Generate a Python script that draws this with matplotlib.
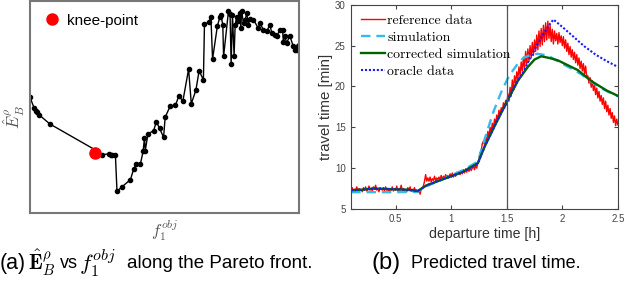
"""Figura: Pareto front (E_B vs f1) y tiempo de viaje predicho."""

import matplotlib
matplotlib.use("Agg")
import matplotlib.pyplot as plt
import numpy as np

plt.rcParams["mathtext.fontset"] = "cm"

# PANEL (a): puntos del frente de Pareto (unidades arbitrarias, 0-100)
PARETO_F1 = [
    0.0, 1.5, 2.1, 2.7, 3.3, 7.4, 24.1, 24.1, 24.9, 26.8, 29.3, 29.9, 30.5, 31.7,
    32.3, 34.0, 37.3, 38.5, 39.5, 41.0, 42.0, 42.5, 42.8, 43.8, 45.9, 46.9, 48.1,
    49.6, 50.2, 52.1, 54.0, 55.2, 56.8, 58.9, 59.9, 61.6, 62.8, 64.4, 64.8, 66.3,
    67.2, 67.8, 69.6, 70.6, 70.9, 71.6, 71.9, 73.7, 74.3, 74.7, 75.2, 75.8, 76.2,
    76.8, 77.4, 78.0, 78.3, 78.6, 79.3, 79.9, 80.5, 81.1, 81.7, 83.0, 84.8, 85.4,
    86.7, 87.9, 89.1, 89.8, 91.0, 91.6, 92.8, 93.8, 94.1, 94.7, 95.3, 96.5, 97.8,
    98.4, 99.0, 99.6, 99.9,
]
PARETO_E = [
    54.5, 49.5, 48.2, 47.4, 46.3, 41.9, 29.8, 28.3, 27.9, 27.5, 27.8, 27.3, 27.3, 27.5,
    10.2, 12.1, 15.7, 20.7, 23.1, 23.1, 29.0, 35.3, 29.4, 37.2, 38.8, 42.9, 40.0,
    35.6, 45.1, 50.5, 50.7, 54.9, 52.9, 67.8, 51.5, 57.8, 67.0, 62.8, 89.2, 89.8,
    92.2, 72.5, 88.2, 92.6, 93.4, 88.7, 73.8, 95.0, 93.9, 70.2, 93.4, 74.1, 88.7,
    92.6, 90.3, 94.2, 87.1, 95.0, 89.5, 91.1, 94.2, 88.7, 91.4, 91.1, 87.1, 89.5,
    86.3, 85.6, 88.7, 84.8, 84.0, 83.2, 86.3, 86.3, 80.8, 83.2, 80.1, 83.5, 78.5,
    76.9, 76.9, 78.5, 79.3,
]
KNEE_F1 = 24.1
KNEE_E = 28.3

# PANEL (b): tiempo de viaje [min] frente a hora de salida [h]
REF_T = np.round(np.arange(0.10, 2.505, 0.01), 2)
REF_TT = [
    7.2, 7.6, 7.1, 7.4, 7.3, 7.7, 7.2, 7.5, 7.3, 7.4,
    7.1, 7.6, 7.3, 7.7, 7.2, 7.4, 7.8, 7.3, 7.5, 7.2,
    7.7, 7.4, 7.9, 7.3, 7.5, 7.1, 7.6, 7.4, 7.3, 7.6,
    7.2, 7.7, 7.3, 7.5, 7.0, 7.4, 7.3, 7.7, 7.2, 7.5,
    7.3, 7.8, 7.2, 7.5, 7.4, 7.9, 7.3, 7.5, 7.1, 7.4,
    7.1, 7.6, 7.3, 7.7, 7.2, 7.4, 7.3, 7.6, 7.0, 7.3,
    7.0, 7.3, 6.8, 7.4, 7.6, 7.8, 8.4, 9.2, 8.4, 8.8,
    8.4, 8.9, 8.3, 8.7, 8.5, 9.0, 8.4, 8.8, 8.6, 8.9,
    8.6, 9.1, 8.6, 9.0, 8.7, 9.2, 8.8, 9.1, 8.8, 9.3,
    8.9, 9.4, 8.9, 9.3, 9.0, 9.5, 9.2, 9.6, 9.2, 9.7,
    9.3, 9.8, 9.4, 9.9, 9.5, 10.0, 9.6, 10.1, 9.7, 10.0,
    10.2, 9.8, 10.4, 10.0, 10.7, 11.0, 11.9, 12.1, 13.0, 13.3,
    12.9, 13.8, 13.3, 14.5, 13.8, 15.0, 14.4, 15.5, 14.9, 16.0,
    15.4, 16.5, 15.9, 17.1, 16.4, 17.4, 16.9, 18.0, 17.3, 18.3,
    17.7, 19.1, 18.2, 19.9, 18.8, 20.8, 19.6, 21.3, 20.4, 21.8,
    20.9, 22.4, 21.3, 23.0, 21.9, 23.6, 22.2, 24.3, 22.7, 24.6,
    23.1, 25.0, 23.5, 25.4, 23.8, 25.7, 24.3, 26.3, 24.5, 26.8,
    24.9, 27.1, 25.1, 27.5, 25.5, 27.8, 25.7, 28.0, 25.9, 27.5,
    25.5, 27.0, 25.2, 26.8, 25.6, 26.5, 25.2, 26.6, 25.4, 26.2,
    25.0, 26.1, 24.7, 25.7, 24.3, 25.3, 23.9, 24.9, 23.6, 24.5,
    23.3, 24.2, 22.9, 23.9, 22.6, 23.5, 22.2, 23.1, 21.9, 22.8,
    21.5, 22.5, 21.1, 21.3, 20.4, 21.1, 19.9, 20.7, 19.5, 20.2,
    19.0, 19.8, 18.6, 19.4, 18.2, 18.9, 17.8, 18.6, 17.3, 18.2,
    16.9, 17.7, 16.5, 17.3, 16.1, 16.8, 15.6, 16.4, 15.2, 16.0,
    15.3,
]
SIM_T = [0.10, 0.30, 0.50, 0.70, 0.78, 0.90, 1.00, 1.10, 1.24, 1.30, 1.38, 1.45, 1.52,
         1.60, 1.65, 1.72, 1.78, 1.87, 1.97, 2.06, 2.17, 2.27, 2.36, 2.45, 2.50]
SIM_TT = [7.05, 7.05, 7.05, 7.1, 7.8, 8.5, 9.1, 9.7, 10.8, 13.5, 16.9, 19.3, 21.3,
          22.8, 23.5, 23.9, 24.0, 23.8, 23.0, 22.35, 21.5, 20.5, 19.7, 19.1, 18.8]
CORR_T = [0.10, 0.20, 0.30, 0.40, 0.50, 0.60, 0.70, 0.78, 0.90, 1.00, 1.10, 1.24, 1.30,
          1.40, 1.50, 1.60, 1.69, 1.75, 1.81, 1.88, 1.96, 2.05, 2.14, 2.22, 2.28, 2.40, 2.50]
CORR_TT = [7.3, 7.35, 7.5, 7.45, 7.4, 7.35, 7.2, 7.9, 8.5, 9.0, 9.5, 10.6, 12.6,
           15.4, 18.1, 20.7, 22.4, 23.3, 23.7, 23.5, 23.2, 22.6, 22.0, 21.1, 20.5, 19.5, 18.85]
ORACLE_T = [0.10, 0.20, 0.30, 0.40, 0.50, 0.60, 0.70, 0.78, 0.90, 1.00, 1.10, 1.24, 1.30,
            1.40, 1.50, 1.60, 1.65, 1.70, 1.75, 1.82, 1.88, 1.92, 2.00, 2.10, 2.20, 2.30,
            2.40, 2.50]
ORACLE_TT = [7.3, 7.35, 7.5, 7.45, 7.4, 7.35, 7.2, 7.9, 8.5, 9.0, 9.5, 10.6, 12.6,
             15.4, 18.1, 20.7, 21.8, 23.2, 24.5, 26.2, 27.5, 28.2, 27.3, 26.1, 24.9, 23.9,
             23.1, 22.4]

X_TICKS = [0.5, 1, 1.5, 2, 2.5]
X_TICKLABELS = ["0.5", "1", "1.5", "2", "2.5"]
Y_TICKS = [5, 10, 15, 20, 25, 30]

SANS = ["Liberation Sans", "DejaVu Sans"]
GREY = "#555555"

fig = plt.figure(figsize=(6.26, 2.85), dpi=100)

# PANEL (a)
ax_a = fig.add_axes([0.048, 0.253, 0.430, 0.744])
ax_a.plot(PARETO_F1, PARETO_E, "-o", color="black", lw=1.0, markersize=3)
ax_a.plot([KNEE_F1], [KNEE_E], "o", color="red", markersize=8, label="knee-point")
ax_a.set_xlim(0, 100)
ax_a.set_ylim(0, 100)
ax_a.set_xticks([])
ax_a.set_yticks([])
for spine in ax_a.spines.values():
    spine.set_color("#777777")
    spine.set_linewidth(1.5)
ax_a.set_xlabel(r"$f_1^{obj}$", fontsize=12, color=GREY)
ax_a.xaxis.set_label_coords(0.5, -0.02)
ax_a.set_ylabel(r"$\hat{E}_B^{\rho}$", fontsize=12, color=GREY)
ax_a.yaxis.set_label_coords(-0.012, 0.45)
ax_a.legend(loc="upper left", frameon=False, prop={"family": SANS, "size": 11},
            handletextpad=0.35, borderaxespad=0.45, handlelength=1.2)

# PANEL (b)
ax_b = fig.add_axes([0.561, 0.267, 0.426, 0.716])
ax_b.plot(REF_T, REF_TT, color="red", lw=1.0, label="reference data")
ax_b.plot(SIM_T, SIM_TT, color="#33bbee", lw=1.7, ls=(0, (4, 2.5)), label="simulation")
ax_b.plot(CORR_T, CORR_TT, color="#006400", lw=1.7, label="corrected simulation")
ax_b.plot(ORACLE_T, ORACLE_TT, color="#1a1aff", lw=1.5, ls=(0, (1, 0.9)), label="oracle data")
ax_b.axvline(1.5, color="#555555", lw=0.9)
ax_b.set_xlim(0.1, 2.5)
ax_b.set_ylim(5, 30)
ax_b.set_xticks(X_TICKS)
ax_b.set_xticklabels(X_TICKLABELS)
ax_b.set_yticks(Y_TICKS)
ax_b.tick_params(direction="in", length=3, labelsize=7, colors="#444444",
                 top=True, right=True, pad=4)
for spine in ax_b.spines.values():
    spine.set_color("#444444")
    spine.set_linewidth(0.8)
for lab in ax_b.get_xticklabels() + ax_b.get_yticklabels():
    lab.set_family(SANS)
ax_b.set_xlabel("departure time [h]", fontsize=10.2, family=SANS, color="#333333", labelpad=2)
ax_b.set_ylabel("travel time [min]", fontsize=10.8, family=SANS, color="#333333", labelpad=1)
ax_b.legend(loc="upper left", frameon=False, prop={"family": "cmr10", "size": 10},
            handlelength=1.75, handletextpad=0.15, borderaxespad=0.3, labelspacing=0.3)

# captions
CAP_Y = 0.077
fig.text(0.0, CAP_Y, "(a)", fontsize=15.5, family=SANS, ha="left", va="center")
fig.text(28 / 626, CAP_Y, r"$\hat{\mathbf{E}}_B^{\rho}$", fontsize=15, ha="left", va="center")
fig.text(60 / 626, CAP_Y, "vs", fontsize=13, family=SANS, ha="left", va="center")
fig.text(79 / 626, CAP_Y, r"$f_1^{obj}$", fontsize=16.5, ha="left", va="center")
fig.text(127 / 626, CAP_Y, "along the Pareto front.", fontsize=13.5, family=SANS,
         ha="left", va="center")
fig.text(372 / 626, CAP_Y, "(b)", fontsize=17, family=SANS, ha="left", va="center")
fig.text(411 / 626, CAP_Y, "Predicted travel time.", fontsize=13, family=SANS,
         ha="left", va="center")

fig.savefig("out.png", dpi=100)
